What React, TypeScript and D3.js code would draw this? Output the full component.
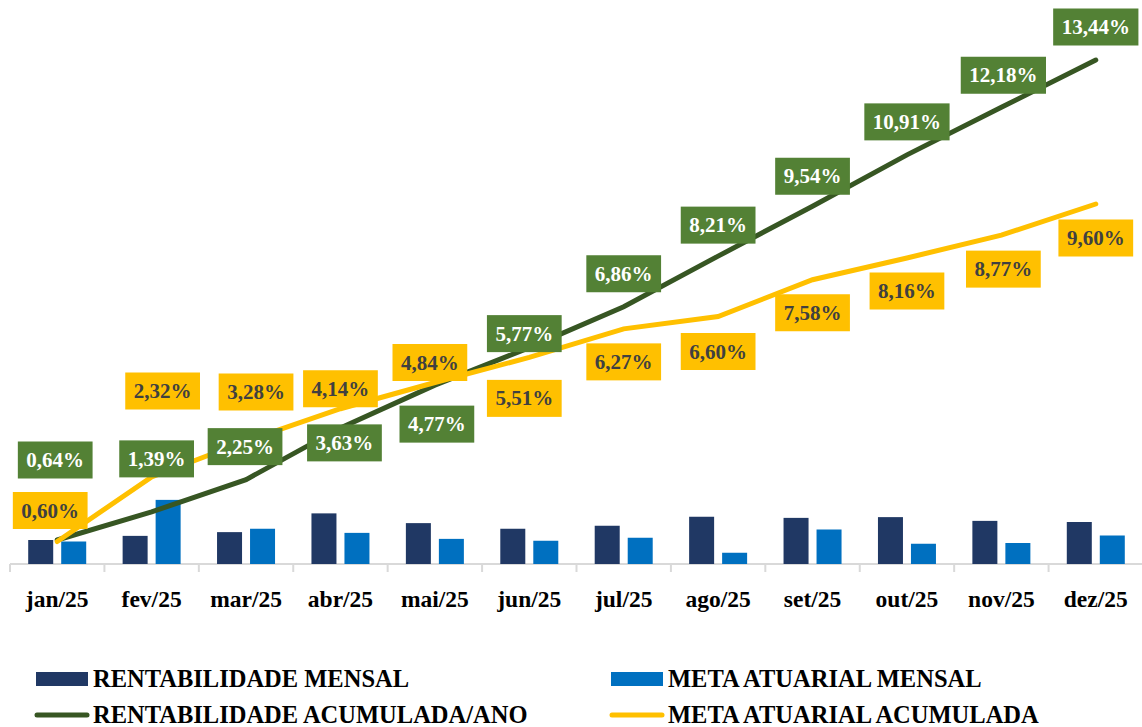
import React, { useEffect, useRef } from "react";
import * as d3 from "d3";

const months = ["jan/25","fev/25","mar/25","abr/25","mai/25","jun/25","jul/25","ago/25","set/25","out/25","nov/25","dez/25"];
const rentMensal = [0.64, 0.75, 0.85, 1.35, 1.09, 0.94, 1.02, 1.26, 1.23, 1.25, 1.15, 1.12];
const metaMensal = [0.60, 1.71, 0.94, 0.83, 0.67, 0.62, 0.70, 0.30, 0.92, 0.54, 0.56, 0.76];
const rentAcum = [0.64, 1.39, 2.25, 3.63, 4.77, 5.77, 6.86, 8.21, 9.54, 10.91, 12.18, 13.44];
const metaAcum = [0.60, 2.32, 3.28, 4.14, 4.84, 5.51, 6.27, 6.60, 7.58, 8.16, 8.77, 9.60];

// label placement offsets (pixels, relative to the point)
const rentLabelDx = [-2, 5, -1, 4, 2, -5, 0, 0, 0, 0, 2, 0];
const rentLabelDy = [-80, -53, -33, 15, 39, -14, -33, -31, -30, -33, -32, -33];
const metaLabelDx = [-7, 11, 10, 0, -5, -5, 0, 0, 0, 0, 2, 0];
const metaLabelDy = [-31, -86, -49, -20, -20, 41, 33, 35, 33, 33, 34, 34];

const legendItems = [
  { name: "RENTABILIDADE MENSAL", kind: "rect", color: "#203864", col: 0, row: 0 },
  { name: "META ATUARIAL MENSAL", kind: "rect", color: "#0070C0", col: 1, row: 0 },
  { name: "RENTABILIDADE ACUMULADA/ANO", kind: "line", color: "#375623", col: 0, row: 1 },
  { name: "META ATUARIAL ACUMULADA", kind: "line", color: "#FFC000", col: 1, row: 1 },
];

const W = 1142, H = 727;
const FONT = "'Liberation Serif', 'Times New Roman', serif";

export default function App() {
  const ref = useRef<SVGSVGElement>(null);
  useEffect(() => {
    const svg = d3.select(ref.current);
    svg.selectAll("*").remove();
    const x = d3.scaleBand<string>().domain(months).range([10, 1143]).padding(0);
    const y = d3.scaleLinear().domain([0, 14]).range([564, 564 - 14 * 37.5]);
    const cx = (i: number) => (x(months[i]) as number) + x.bandwidth() / 2;
    const fmt = (v: number) => v.toFixed(2).replace(".", ",") + "%";

    // axis
    svg.append("line").attr("x1", 10).attr("x2", 1143).attr("y1", 564).attr("y2", 564)
      .attr("stroke", "#D9D9D9").attr("stroke-width", 2);
    const ticks = months.map((m) => x(m) as number).concat([1143]);
    svg.selectAll(".tick").data(ticks).enter().append("line")
      .attr("x1", (d) => d).attr("x2", (d) => d).attr("y1", 564).attr("y2", 572)
      .attr("stroke", "#D9D9D9").attr("stroke-width", 2);
    svg.selectAll(".xl").data(months).enter().append("text")
      .attr("x", (d, i) => cx(i)).attr("y", 607).attr("text-anchor", "middle")
      .attr("font-family", FONT).attr("font-weight", "bold").attr("font-size", 23.5)
      .attr("fill", "#000").text((d) => d);

    // bars
    const bw = 25;
    svg.selectAll(".b1").data(rentMensal).enter().append("rect")
      .attr("x", (d, i) => cx(i) - 4 - bw).attr("width", bw)
      .attr("y", (d) => y(d)).attr("height", (d) => y(0) - y(d)).attr("fill", "#203864");
    svg.selectAll(".b2").data(metaMensal).enter().append("rect")
      .attr("x", (d, i) => cx(i) + 4).attr("width", bw)
      .attr("y", (d) => y(d)).attr("height", (d) => y(0) - y(d)).attr("fill", "#0070C0");

    // lines
    const line = d3.line<number>().x((d, i) => cx(i)).y((d) => y(d));
    svg.append("path").attr("d", line(rentAcum)).attr("fill", "none")
      .attr("stroke", "#375623").attr("stroke-width", 5).attr("stroke-linecap", "round");
    svg.append("path").attr("d", line(metaAcum)).attr("fill", "none")
      .attr("stroke", "#FFC000").attr("stroke-width", 5).attr("stroke-linecap", "round");

    // labels
    const drawLabels = (vals: number[], dxs: number[], dys: number[], bg: string, fg: string) => {
      vals.forEach((v, i) => {
        const g = svg.append("g").attr("transform", `translate(${cx(i) + dxs[i]},${y(v) + dys[i]})`);
        const rect = g.append("rect").attr("fill", bg);
        const t = g.append("text").attr("text-anchor", "middle").attr("y", 7)
          .attr("font-family", FONT).attr("font-weight", "bold").attr("font-size", 21)
          .attr("fill", fg).text(fmt(v));
        const w = (t.node() as SVGTextElement).getComputedTextLength() + 17;
        rect.attr("x", -w / 2).attr("y", -18.5).attr("width", w).attr("height", 37);
      });
    };
    drawLabels(rentAcum, rentLabelDx, rentLabelDy, "#538135", "#FFFFFF");
    drawLabels(metaAcum, metaLabelDx, metaLabelDy, "#FFC000", "#404040");

    // legend
    const colX = [36, 611];
    const rowY = [679, 715];
    legendItems.forEach((it) => {
      const lx = colX[it.col], ly = rowY[it.row];
      if (it.kind === "rect") {
        svg.append("rect").attr("x", lx).attr("y", ly - 7).attr("width", 52).attr("height", 14).attr("fill", it.color);
      } else {
        svg.append("line").attr("x1", lx + 1).attr("x2", lx + 51).attr("y1", ly).attr("y2", ly)
          .attr("stroke", it.color).attr("stroke-width", 5).attr("stroke-linecap", "round");
      }
      svg.append("text").attr("x", lx + 57).attr("y", ly + 7.5)
        .attr("font-family", FONT).attr("font-weight", "bold").attr("font-size", 24.5)
        .attr("fill", "#000").text(it.name);
    });
  }, []);
  return (
    <svg ref={ref} width={W} height={H} style={{ position: "absolute", left: 0, top: 0, background: "#fff" }} />
  );
}
